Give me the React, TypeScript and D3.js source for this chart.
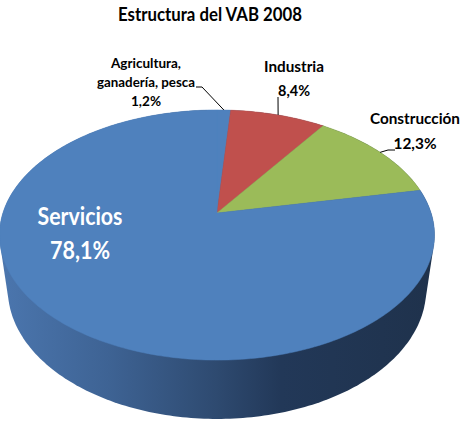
import React from 'react';
import * as d3 from 'd3';

const title = 'Estructura del VAB 2008';
const categories = ['Agricultura,|ganadería, pesca', 'Industria', 'Construcción', 'Servicios'];
const values = [1.2, 8.4, 12.3, 78.1];
const valueLabels = ['1,2%', '8,4%', '12,3%', '78,1%'];
const topColors = ['#4f81bd', '#c0504d', '#9bbb59', '#4f81bd'];

// label layout: x center, first baseline, line spacing, text widths
const labelLayout = [
  { x: 146, y: 68, dy: 19, color: '#000', size: 14, widths: [70, 98, 30], lead: [[202, 87], [196, 87]] },
  { x: 294, y: 72, dy: 24, color: '#000', size: 15, widths: [60, 32], lead: [[278, 97]] },
  { x: 415, y: 124, dy: 25, color: '#000', size: 15, widths: [90, 43], lead: [[388, 150], [395, 150]] },
  { x: 80, y: 225, dy: 34, color: '#fff', size: 24, widths: [85, 60], lead: [] },
];

const W = 461, H = 421;
const cx = 217, cy = 213;
const F = 1002, Dd = 4.68, sPhi = 0.566, cPhi = 0.824, hh = 0.32;

function proj(theta: number, r: number, z: number): [number, number] {
  const X = r * Math.sin(theta);
  const Yd = -r * Math.cos(theta);
  const depth = Dd - (Yd * cPhi + z * sPhi);
  const up = z * cPhi - Yd * sPhi;
  return [cx + (F * X) / depth, cy - (F * up) / depth];
}

export default function App() {
  const pie = d3.pie<number>().sort(null).value((d) => d).startAngle(0).endAngle(2 * Math.PI);
  const arcs = pie(values);

  const ring = d3.range(0, 361).map((d) => (d * Math.PI) / 180);
  const topPts = ring.map((t) => proj(t, 1, 0));
  const botPts = ring.map((t) => proj(t, 1, -hh));
  const hull = d3.polygonHull([...topPts, ...botPts] as [number, number][])!;
  const line = d3.line();

  const slicePath = (a0: number, a1: number) => {
    const n = Math.max(2, Math.ceil(((a1 - a0) * 180) / Math.PI));
    const pts: [number, number][] = [proj(0, 0, 0)];
    for (let i = 0; i <= n; i++) pts.push(proj(a0 + ((a1 - a0) * i) / n, 1, 0));
    return line(pts) + 'Z';
  };

  const font = "Lato, 'Open Sans', sans-serif";

  return (
    <svg width={W} height={H} style={{ position: 'absolute', left: 0, top: 0, background: '#fff' }}>
      <defs>
        <linearGradient id="side" gradientUnits="userSpaceOnUse" x1={0} x2={433} y1={0} y2={0}>
          <stop offset="0" stopColor="#4b76ae" />
          <stop offset="0.25" stopColor="#3e6394" />
          <stop offset="0.5" stopColor="#2e4a70" />
          <stop offset="0.65" stopColor="#223858" />
          <stop offset="1" stopColor="#1f324c" />
        </linearGradient>
      </defs>
      <text x={210} y={21} textAnchor="middle" fontFamily={font} fontWeight="bold" fontSize={18} fill="#000"
        textLength={184} lengthAdjust="spacingAndGlyphs">
        {title}
      </text>
      <path d={line(hull) + 'Z'} fill="url(#side)" />
      {arcs.map((a, i) => (
        <path key={i} d={slicePath(a.startAngle, a.endAngle)} fill={topColors[i]} stroke={topColors[i]} strokeWidth={0.5} />
      ))}
      {arcs.map((a, i) => {
        const L = labelLayout[i];
        const lines = [...categories[i].split('|'), valueLabels[i]];
        const mid = (a.startAngle + a.endAngle) / 2;
        const edge = proj(mid, 1, 0);
        return (
          <g key={'l' + i}>
            {L.lead.length > 0 && (
              <path d={line([edge, ...(L.lead as [number, number][])])!} fill="none" stroke="#000" strokeWidth={1} />
            )}
            {lines.map((t, j) => (
              <text key={j} x={L.x} y={L.y + j * L.dy} textAnchor="middle" fontFamily={font} fontWeight="bold"
                fontSize={L.size} fill={L.color} textLength={L.widths[j]} lengthAdjust="spacingAndGlyphs">
                {t}
              </text>
            ))}
          </g>
        );
      })}
    </svg>
  );
}
